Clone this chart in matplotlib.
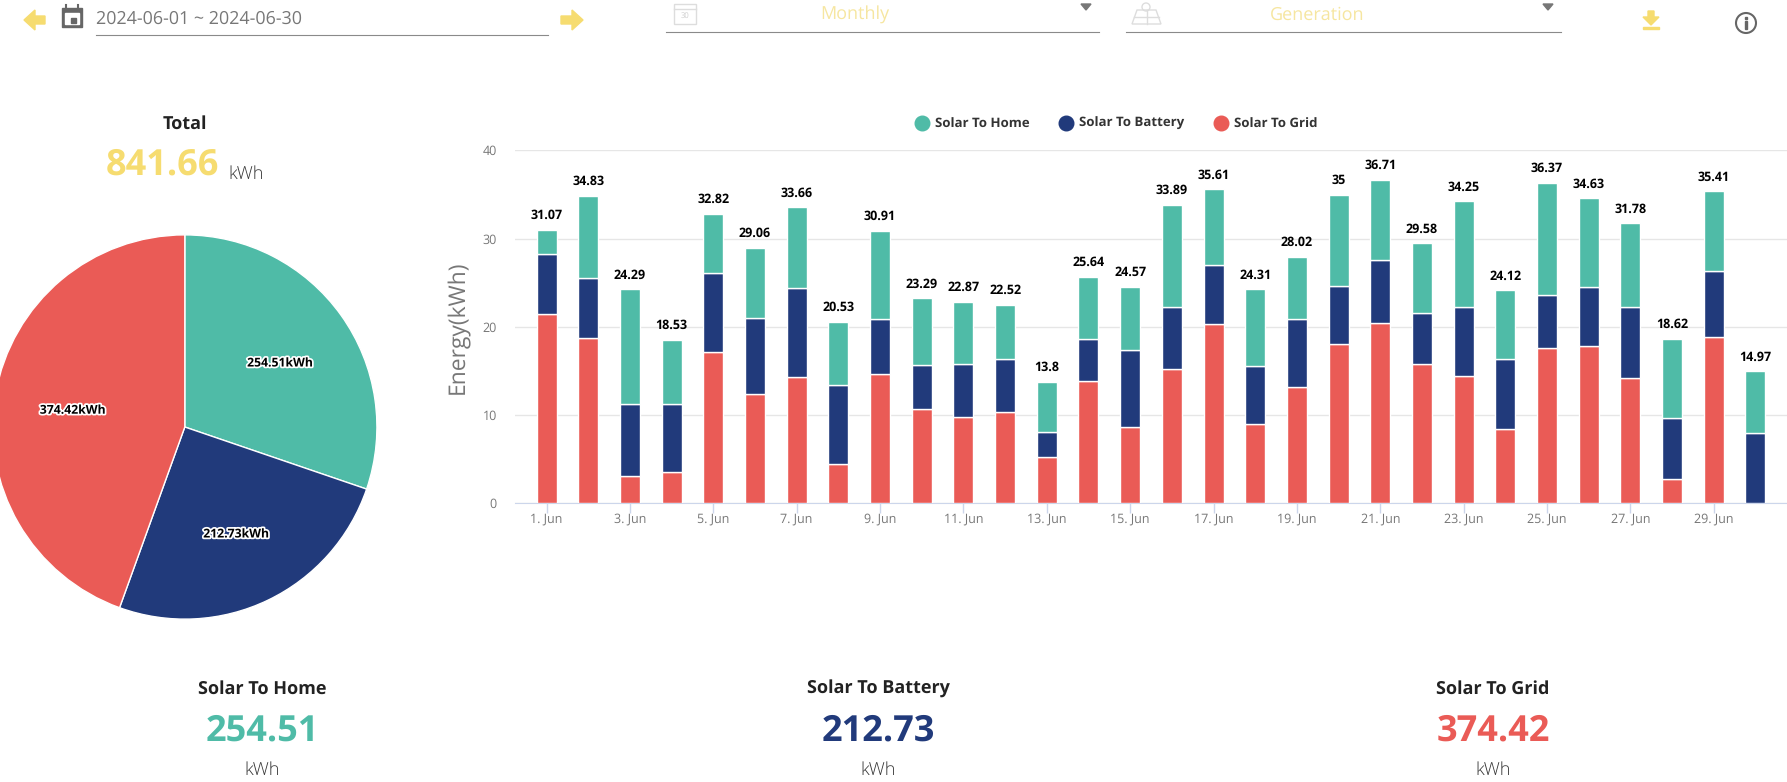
import matplotlib
matplotlib.use("Agg")
import matplotlib.pyplot as plt
import matplotlib.patheffects as pe
from matplotlib.lines import Line2D
from matplotlib.patches import Polygon, Rectangle, Circle

plt.rcParams['font.family'] = ['Open Sans', 'DejaVu Sans']
plt.rcParams['text.hinting'] = 'no_hinting'

W, H = 1787, 782

# data
days = list(range(1, 31))
to_grid = [21.4, 18.7, 3.1, 3.5, 17.1, 12.4, 14.3, 4.4, 14.7, 10.7, 9.8, 10.4, 5.3, 13.9, 8.6,
           15.2, 20.3, 9.0, 13.2, 18.1, 20.4, 15.8, 14.4, 8.4, 17.6, 17.8, 14.2, 2.7, 18.8, 0]
to_battery = [6.8, 6.8, 8.1, 7.7, 9.0, 8.6, 10.1, 9.0, 6.2, 5.0, 6.0, 5.9, 2.8, 4.7, 8.8,
              7.0, 6.7, 6.6, 7.7, 6.5, 7.2, 5.8, 7.8, 7.9, 6.0, 6.7, 8.1, 7.0, 7.5, 8.0]
to_home = [2.8, 9.35, 13.05, 7.35, 6.7, 7.95, 9.15, 7.15, 10.0, 7.55, 7.05, 6.2, 5.65, 7.05, 7.1,
           11.65, 8.6, 8.65, 7.05, 10.35, 9.05, 7.85, 12.0, 7.85, 12.75, 10.05, 9.45, 8.95, 9.05, 6.95]
total_labels = ["31.07", "34.83", "24.29", "18.53", "32.82", "29.06", "33.66", "20.53", "30.91", "23.29",
                "22.87", "22.52", "13.8", "25.64", "24.57", "33.89", "35.61", "24.31", "28.02", "35",
                "36.71", "29.58", "34.25", "24.12", "36.37", "34.63", "31.78", "18.62", "35.41", "14.97"]
tick_days = list(range(1, 30, 2))
y_ticks = [0, 10, 20, 30, 40]

series_names = ["Solar To Home", "Solar To Battery", "Solar To Grid"]
pie_values = [254.51, 212.73, 374.42]
total = "841.66"

TEAL = "#4fbba7"
NAVY = "#213a7b"
RED = "#ea5b56"
YELLOW = "#f6dc70"
PALE = "#f6e6a0"
colors = [TEAL, NAVY, RED]

fig = plt.figure(figsize=(W / 100, H / 100), dpi=100, facecolor="white")


def box(x0, y0, x1, y1):
    # pixel box (top left origin) to figure fractions
    return [x0 / W, 1 - y1 / H, (x1 - x0) / W, (y1 - y0) / H]


# stacked bars
ax = fig.add_axes(box(515, 150.3, 1787, 503.3))
bottoms = [g + b for g, b in zip(to_grid, to_battery)]
tops = [b + h for b, h in zip(bottoms, to_home)]
ax.bar(days, to_grid, width=0.48, color=RED, edgecolor="white", linewidth=1, zorder=3)
ax.bar(days, to_battery, bottom=to_grid, width=0.48, color=NAVY, edgecolor="white", linewidth=1, zorder=3)
ax.bar(days, to_home, bottom=bottoms, width=0.48, color=TEAL, edgecolor="white", linewidth=1, zorder=3)
for d, top, lab in zip(days, tops, total_labels):
    ax.annotate(lab, (d, top), xytext=(0, 5.5), textcoords="offset points", ha="center", va="bottom",
                fontsize=9, fontweight="bold", color="black", zorder=4)
ax.set_xlim(0.244, 30.756)
ax.set_ylim(0, 40)
ax.set_yticks(y_ticks)
ax.set_xticks(tick_days)
ax.set_xticklabels([f"{d}. Jun" for d in tick_days])
ax.grid(axis="y", color="#e6e6e6", linewidth=1, zorder=0)
ax.set_axisbelow(True)
for s in ["top", "right", "left"]:
    ax.spines[s].set_visible(False)
ax.spines["bottom"].set_color("#ccd6eb")
ax.tick_params(axis="y", length=0, labelsize=9, labelcolor="#777777", pad=13)
ax.tick_params(axis="x", length=7, width=1, color="#ccd6eb", labelsize=9, labelcolor="#777777", pad=0)
ax.set_ylabel("Energy(kWh)", fontsize=16.5, color="#777777")
ax.yaxis.set_label_coords((470 - 515) / (W - 515), 0.5)

handles = [Line2D([], [], marker="o", linestyle="", color=c, markersize=10.5) for c in colors]
ax.legend(handles, series_names, loc="center", bbox_to_anchor=(1113 / W, 1 - 124 / H),
          bbox_transform=fig.transFigure, ncol=3, frameon=False, handletextpad=0.0, columnspacing=1.75,
          prop={"size": 9.5, "weight": "bold"}, labelcolor="#333333")

# pie
cx, cy, r = 184.8, 427, 192.5
pax = fig.add_axes(box(cx - r, cy - r, cx + r, cy + r))
wedges, texts = pax.pie(pie_values, colors=colors, startangle=90, counterclock=False, radius=1,
                        labels=[f"{v}kWh" for v in pie_values], labeldistance=0.6,
                        wedgeprops={"edgecolor": "white", "linewidth": 1})
for t in texts:
    t.set_ha("center")
    t.set_va("center")
    t.set_fontsize(8.8)
    t.set_fontweight("bold")
    t.set_color("black")
    t.set_path_effects([pe.withStroke(linewidth=2.5, foreground="white")])
    px, py = t.get_position()
    t.set_position((px + 0.008, py - 0.018))
pax.set_xlim(-1.002, 1.002)
pax.set_ylim(-1.002, 1.002)

# overlay for the page furniture, in pixels
ui = fig.add_axes([0, 0, 1, 1], zorder=-1)
ui.set_xlim(0, W)
ui.set_ylim(H, 0)
ui.axis("off")


def label(x, y, s, size, color, weight="normal", ha="center"):
    ui.text(x, y, s, fontsize=size, color=color, fontweight=weight, ha=ha, va="center")


# top bar
ui.add_patch(Polygon([(24, 20), (35, 10), (35, 16), (45, 16), (45, 24), (35, 24), (35, 30)], color=YELLOW))
ui.add_patch(Polygon([(583, 20), (572, 10), (572, 16), (561, 16), (561, 24), (572, 24), (572, 30)], color=YELLOW))
ui.add_patch(Rectangle((62, 8), 20, 19, color="#666666"))
ui.add_patch(Rectangle((65, 13), 14, 11, color="white"))
ui.add_patch(Rectangle((71, 18), 5, 5, color="#666666"))
ui.plot([66, 66], [5, 9], color="#666666", lw=1.5)
ui.plot([78, 78], [5, 9], color="#666666", lw=1.5)
label(96, 19, "2024-06-01 ~ 2024-06-30", 12.9, "#777777", ha="left")
ui.plot([96, 548], [35, 35], color="#8a8a8a", lw=0.8)
ui.plot([666, 1099], [32, 32], color="#8a8a8a", lw=0.8)
ui.plot([1126, 1561], [32, 32], color="#8a8a8a", lw=0.8)
label(855, 15, "Monthly", 13, PALE)
label(1317, 15, "Generation", 13, PALE)
ui.add_patch(Polygon([(1081, 4), (1091, 4), (1086, 10)], color="#777777"))
ui.add_patch(Polygon([(1543, 4), (1553, 4), (1548, 10)], color="#777777"))

ui.add_patch(Rectangle((674, 4), 22, 20, fill=False, ec="#dddddd", lw=1))
ui.plot([674, 696], [9, 9], color="#dddddd", lw=1)
label(685, 16, "30", 5.5, "#cccccc")
ui.add_patch(Polygon([(1137, 10), (1156, 10), (1161, 24), (1132, 24)], fill=False, ec="#dddddd", lw=1))
ui.plot([1146.5, 1146.5], [10, 24], color="#dddddd", lw=1)
ui.plot([1134, 1159], [17, 17], color="#dddddd", lw=1)
ui.add_patch(Circle((1146, 7), 4, fill=False, ec="#dddddd", lw=1))

ui.add_patch(Polygon([(1648, 11), (1654, 11), (1654, 17), (1659, 17), (1651, 25), (1643, 17), (1648, 17)], color=YELLOW))
ui.add_patch(Rectangle((1643, 27), 16, 2, color=YELLOW))
ui.add_patch(Circle((1746, 23), 10, fill=False, ec="#666666", lw=1.5))
ui.add_patch(Rectangle((1745.2, 21), 1.6, 8, color="#666666"))
ui.add_patch(Rectangle((1745.2, 17), 1.6, 2, color="#666666"))

# total above the pie
label(185, 124, "Total", 13, "#222222", "bold")
label(162, 165, total, 26, YELLOW, "bold")
label(246, 174, "kWh", 13, "#333333", "light")

# summary row
for x, name, v, c in zip([262, 878, 1493], series_names, pie_values, colors):
    label(x, 689, name, 13, "#222222", "bold")
    label(x, 731, f"{v}", 26, c, "bold")
    label(x, 770, "kWh", 13, "#333333", "light")

fig.savefig("out.png", dpi=100)
